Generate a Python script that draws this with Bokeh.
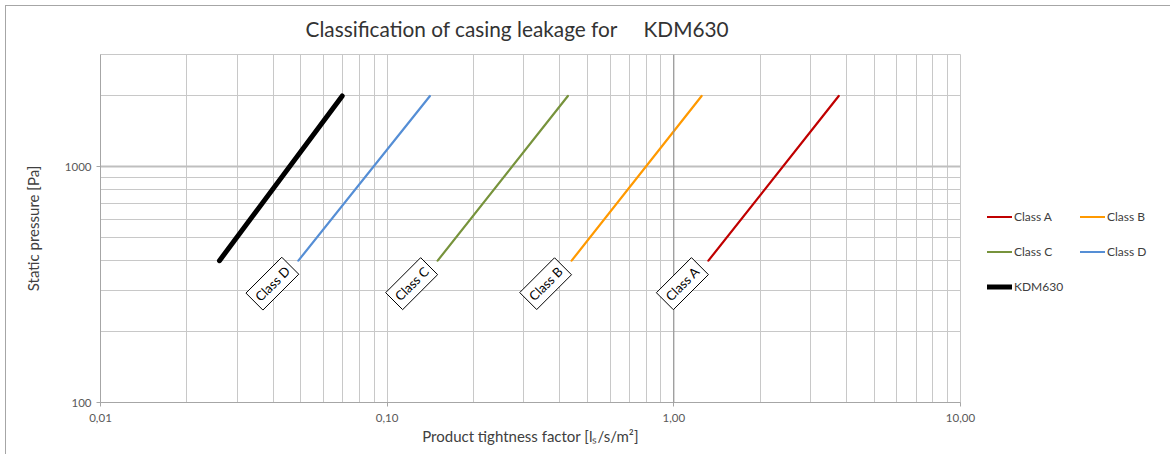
from bokeh.plotting import figure
from bokeh.models import FixedTicker, Label, Legend, LegendItem, Span
from bokeh.embed import file_html
from bokeh.resources import INLINE

# ---- data ----
pressure = [400, 2000]                 # Pa
class_a = [1.32, 3.76]                 # l/s/m²
class_b = [0.44, 1.25]
class_c = [0.15, 0.427]
class_d = [0.049, 0.141]
kdm630 = [0.026, 0.0697]

series_names = ["Class A", "Class B", "Class C", "Class D", "KDM630"]
series_colors = ["#C00000", "#FF9900", "#77933C", "#558ED5", "#000000"]
series_widths = [2.2, 2.2, 2.2, 2.2, 5]

x_ticks = [0.01, 0.1, 1, 10]
x_tick_labels = ["0,01", "0,10", "1,00", "10,00"]
x_minor = [0.02, 0.03, 0.04, 0.05, 0.06, 0.07, 0.08, 0.09,
           0.2, 0.3, 0.4, 0.5, 0.6, 0.7, 0.8, 0.9,
           2, 3, 4, 5, 6, 7, 8, 9]
y_ticks = [100, 1000]
y_tick_labels = ["100", "1000"]
y_minor = [200, 300, 400, 500, 600, 700, 800, 900, 2000]

title_text = "Classification of casing leakage for \u00a0\u00a0\u00a0\u00a0KDM630"
x_label = "Product tightness factor [l\u209b/s/m\u00b2]"
y_label = "Static pressure [Pa]"

FONT = "Lato"

p = figure(frame_width=860, frame_height=348, x_axis_type="log", y_axis_type="log",
           x_range=(0.01, 10), y_range=(100, 3000),
           output_backend="svg", toolbar_location=None,
           min_border_left=100, min_border_right=0,
           min_border_top=54, min_border_bottom=52)

p.background_fill_color = "white"
p.border_fill_color = "white"
p.border_fill_alpha = 0
p.outline_line_color = "#c8c8c8"
# chart-area border (top and left edges visible in the reference crop)
p.styles = {
    "background": ("linear-gradient(#a6a6a6,#a6a6a6) 5px 5px / 1px 100% no-repeat, "
                   "linear-gradient(#a6a6a6,#a6a6a6) 5px 5px / 100% 1px no-repeat, white"),
}

# title
p.title.text = title_text
p.title.text_font = FONT
p.title.text_font_size = "20.8px"
p.title.text_font_style = "normal"
p.title.text_color = "#333333"
p.title.align = "left"
p.title.offset = 205
p.title.standoff = 27

# axes
for ax in (p.xaxis[0], p.yaxis[0]):
    ax.axis_line_color = "#a6a6a6"
    ax.major_tick_line_color = "#a6a6a6"
    ax.minor_tick_line_color = None
    ax.major_tick_in = 0
    ax.major_tick_out = 4
    ax.major_label_text_font = FONT
    ax.major_label_text_font_size = "11.5px"
    ax.major_label_text_color = "#595959"
    ax.axis_label_text_font = FONT
    ax.axis_label_text_font_size = "15px"
    ax.axis_label_text_font_style = "normal"
    ax.axis_label_text_color = "#404040"

p.xaxis.ticker = FixedTicker(ticks=x_ticks, minor_ticks=x_minor)
p.yaxis.ticker = FixedTicker(ticks=y_ticks, minor_ticks=y_minor)
p.xaxis.major_label_overrides = dict(zip(x_ticks, x_tick_labels))
p.yaxis.major_label_overrides = dict(zip(y_ticks, y_tick_labels))
p.xaxis.axis_label = x_label
p.yaxis.axis_label = y_label
p.xaxis.major_label_standoff = 7
p.yaxis.major_label_standoff = 5
p.xaxis.axis_label_standoff = 2
p.yaxis.axis_label_standoff = 20

# grids
p.xgrid.grid_line_color = "#c8c8c8"
p.xgrid.minor_grid_line_color = "#c8c8c8"
p.ygrid.grid_line_color = "#bfbfbf"
p.ygrid.grid_line_width = 2
p.ygrid.minor_grid_line_color = "#c8c8c8"

p.add_layout(Span(location=1, dimension="height", line_color="#8c8c8c", line_width=1))

# series
series_x = [class_a, class_b, class_c, class_d, kdm630]
renderers = []
for name, xs, col, w in zip(series_names, series_x, series_colors, series_widths):
    r = p.line(xs, pressure, line_color=col, line_width=w, line_cap="round")
    renderers.append(r)

# class labels at the start of each class line
for name, xs in zip(series_names[:4], series_x[:4]):
    shadow = Label(x=xs[0], y=pressure[0], x_offset=-24, y_offset=-25,
                   text=name, angle=45, angle_units="deg",
                   text_align="center", text_baseline="middle",
                   text_font=FONT, text_font_size="13px", text_alpha=0,
                   background_fill_color="#000000", background_fill_alpha=0.25,
                   padding=4)
    p.add_layout(shadow)
    lab = Label(x=xs[0], y=pressure[0], x_offset=-26, y_offset=-23,
                text=name, angle=45, angle_units="deg",
                text_align="center", text_baseline="middle",
                text_font=FONT, text_font_size="13px", text_color="#000000",
                background_fill_color="white", border_line_color="black",
                border_line_width=1, padding=4)
    p.add_layout(lab)

legend = Legend(items=[LegendItem(label=n, renderers=[r]) for n, r in zip(series_names, renderers)],
                orientation="horizontal", ncols=2,
                location=(27, 101),
                glyph_width=25, glyph_height=29, label_height=29, label_width=60,
                label_standoff=2, spacing=6, padding=0, margin=0,
                label_text_font=FONT, label_text_font_size="12px",
                label_text_color="#404040",
                border_line_color=None, background_fill_alpha=0)
p.add_layout(legend, "right")

open("out.html", "w").write(file_html(p, INLINE))
